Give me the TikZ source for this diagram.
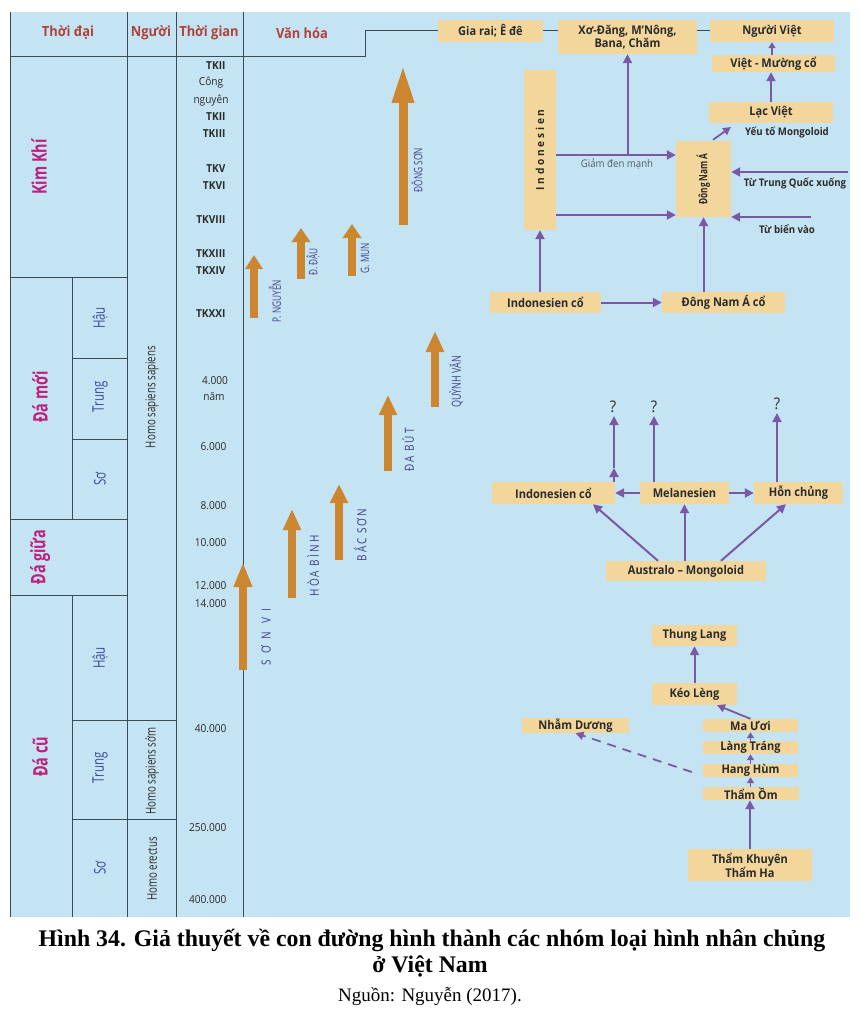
\documentclass[tikz,border=0pt]{standalone}
\usepackage{fontspec}
\setmainfont{Open Sans}
\newfontfamily\capfont{Liberation Serif}
\newfontfamily\boxfont[FakeStretch=0.92]{Open Sans}
\newfontfamily\condfont[FakeStretch=0.72]{Open Sans}
\newfontfamily\spacedfont[FakeStretch=0.8,LetterSpace=17]{Open Sans}
\newfontfamily\widespfont[FakeStretch=0.8,LetterSpace=50]{Open Sans}
\usetikzlibrary{arrows.meta,calc}
\definecolor{bgblue}{HTML}{C5E4F3}
\definecolor{tanbox}{HTML}{F2D69C}
\definecolor{orarrow}{HTML}{CC8630}
\definecolor{purp}{HTML}{7B58A3}
\definecolor{magl}{HTML}{BF1F7D}
\definecolor{subblue}{HTML}{3D4C9E}
\definecolor{hdred}{HTML}{B0413A}
\definecolor{cult}{HTML}{403F8C}
\definecolor{gridc}{HTML}{3B4B52}
\definecolor{txt}{HTML}{2B2B2B}
\definecolor{graytxt}{HTML}{4F5F66}
\tikzset{
  box/.style={fill=tanbox, draw=none, inner sep=0pt, align=center, text=txt,
    font=\boxfont\bfseries\fontsize{12}{13}\selectfont},
  gridline/.style={draw=gridc, line width=1pt},
  parr/.style={draw=purp, line width=2pt, -{Triangle[length=9pt,width=9pt]}},
  sparr/.style={draw=purp, line width=1.6pt, -{Triangle[length=6pt,width=7pt]}},
  orar/.style={draw=orarrow, line width=8.5pt},
  hdr/.style={text=hdred, font=\boxfont\bfseries\fontsize{14}{16}\selectfont},
  era/.style={rotate=90, text=magl, font=\condfont\bfseries\fontsize{20}{22}\selectfont},
  subera/.style={rotate=90, text=subblue, font=\condfont\fontsize{16}{17}\selectfont},
  human/.style={rotate=90, text=txt, font=\condfont\fontsize{13.5}{14}\selectfont},
  tl/.style={anchor=east, text=txt, font=\boxfont\fontsize{11}{12}\selectfont},
  tlb/.style={anchor=east, text=txt, font=\boxfont\bfseries\fontsize{11}{12}\selectfont},
  tlc/.style={text=txt, font=\boxfont\fontsize{11}{12}\selectfont},
  cultlbl/.style={rotate=90, text=cult, font=\condfont\fontsize{11.5}{12}\selectfont},
  cultsp/.style={rotate=90, text=cult, font=\spacedfont\fontsize{12.5}{13}\selectfont},
  smalllbl/.style={text=txt, font=\boxfont\bfseries\fontsize{10.5}{12}\selectfont},
  qm/.style={text=txt, inner sep=1pt, font=\boxfont\fontsize{16}{17}\selectfont},
}
\begin{document}
\begin{tikzpicture}[x=1pt,y=-1pt]
\useasboundingbox (0,0) rectangle (860,1024);
\fill[white] (0,0) rectangle (860,1024);
\fill[bgblue] (10,12) rectangle (850,917);

% grid
\draw[gridline] (10,12) -- (10,917);
\draw[gridline] (127,12) -- (127,917);
\draw[gridline] (176,12) -- (176,917);
\draw[gridline] (243,12) -- (243,917);
\draw[gridline] (72,277) -- (72,519);
\draw[gridline] (72,595) -- (72,917);
\draw[gridline] (10,277) -- (127,277);
\draw[gridline] (72,358) -- (127,358);
\draw[gridline] (72,439) -- (127,439);
\draw[gridline] (10,519) -- (127,519);
\draw[gridline] (10,595) -- (127,595);
\draw[gridline] (72,720) -- (176,720);
\draw[gridline] (72,819) -- (176,819);

% header
\node[hdr] (h1) at (68,33) {Thời đại};
\node[hdr] (h2) at (151,33) {Người};
\node[hdr] (h3) at (209,33) {Thời gian};
\node[hdr] (h4) at (302,33) {Văn hóa};

% eras
\node[era] (e1) at (39,167) {Kim Khí};
\node[era] (e2) at (40,397) {Đá mới};
\node[era] (e3) at (40,557) {Đá giữa};
\node[era] (e4) at (40,757) {Đá cũ};
\node[subera] (s1) at (100,318) {Hậu};
\node[subera] (s2) at (100,397) {Trung};
\node[subera] (s3) at (100,479) {Sơ};
\node[subera] (s4) at (100,658) {Hậu};
\node[subera] (s5) at (100,768) {Trung};
\node[subera] (s6) at (100,868) {Sơ};
\node[human] (p1) at (152,397) {Homo sapiens sapiens};
\node[human] (p2) at (152,771) {Homo sapiens sớm};
\node[human] (p3) at (152,869) {Homo erectus};

% time labels
\node[tlb] (t1) at (229,66) {TKII};
\node[tlc] (t2) at (211,83) {Công};
\node[tlc] (t3) at (211,101) {nguyên};
\node[tlb] (t4) at (229,117) {TKII};
\node[tlb] (t5) at (229,134) {TKIII};
\node[tlb] (t6) at (229,169) {TKV};
\node[tlb] (t7) at (229,186) {TKVI};
\node[tlb] (t8) at (229,220) {TKVIII};
\node[tlb] (t9) at (229,254) {TKXIII};
\node[tlb] (t10) at (229,271) {TKXIV};
\node[tlb] (t11) at (229,314) {TKXXI};
\node[tlc] (t12) at (215,381) {4.000};
\node[tlc] (t13) at (214,396) {năm};
\node[tl] (t14) at (230,447) {6.000};
\node[tl] (t15) at (230,506) {8.000};
\node[tl] (t16) at (230,543) {10.000};
\node[tl] (t17) at (230,586) {12.000};
\node[tl] (t18) at (230,604) {14.000};
\node[tl] (t19) at (230,729) {40.000};
\node[tl] (t20) at (230,828) {250.000};
\node[tl] (t21) at (230,900) {400.000};

% culture arrows
\coordinate (sv0) at (243,670); \coordinate (sv1) at (243,562);
\draw[orar,-{Triangle[length=25pt,width=17pt]}] (sv0) -- (sv1);
\coordinate (hb0) at (292,598); \coordinate (hb1) at (292,509);
\draw[orar,-{Triangle[length=21pt,width=17pt]}] (hb0) -- (hb1);
\coordinate (bs0) at (339,560); \coordinate (bs1) at (339,484);
\draw[orar,-{Triangle[length=19pt,width=17pt]}] (bs0) -- (bs1);
\coordinate (db0) at (388,471); \coordinate (db1) at (388,395);
\draw[orar,-{Triangle[length=20pt,width=17pt]}] (db0) -- (db1);
\coordinate (qv0) at (435,407); \coordinate (qv1) at (435,331);
\draw[orar,-{Triangle[length=21pt,width=17pt]}] (qv0) -- (qv1);
\coordinate (pn0) at (254,318); \coordinate (pn1) at (254,255);
\draw[orar,-{Triangle[length=14pt,width=17pt]}] (pn0) -- (pn1);
\coordinate (dd0) at (301,279); \coordinate (dd1) at (301,228);
\draw[orar,-{Triangle[length=14pt,width=18pt]}] (dd0) -- (dd1);
\coordinate (gm0) at (352,276); \coordinate (gm1) at (352,224);
\draw[orar,-{Triangle[length=14pt,width=18pt]}] (gm0) -- (gm1);
\coordinate (ds0) at (403,225); \coordinate (ds1) at (403,64);
\draw[orar,line width=9pt,-{Triangle[length=39pt,width=20pt]}] (ds0) -- (ds1);

\node[cultsp,font=\widespfont\fontsize{12.5}{13}\selectfont] (l1) at (266,637) {SƠN VI};
\node[cultsp] (l2) at (313,566) {HÒA BÌNH};
\node[cultsp] (l3) at (360,535) {BẮC SƠN};
\node[cultsp] (l4) at (408,450) {ĐA BÚT};
\node[cultlbl,font=\condfont\fontsize{12.5}{13}\selectfont] (l5) at (456,382) {QUỲNH VĂN};
\node[cultlbl] (l6) at (275,301) {P. NGUYỄN};
\node[cultlbl] (l7) at (313,262) {Đ. ĐẬU};
\node[cultlbl] (l8) at (365,258) {G. MUN};
\node[cultlbl] (l9) at (417,170) {ĐÔNG SƠN};

% top diagram
\node[box,minimum width=105pt,minimum height=22pt] (giarai) at (490.5,31) {Gia rai; Ê đê};
\node[box,minimum width=139pt,minimum height=34pt] (xodang) at (627.5,37) {Xơ-Đăng, M’Nông,\\Bana, Chăm};
\node[box,minimum width=124pt,minimum height=22pt] (nguoiviet) at (772,31) {Người Việt};
\node[box,minimum width=123pt,minimum height=17pt] (vietmuong) at (773.5,63.5) {Việt - Mường cổ};
\node[box,minimum width=124pt,minimum height=21pt] (lacviet) at (771,112.5) {Lạc Việt};
\node[box,minimum width=55pt,minimum height=76pt] (dna) at (703.5,179) {};
\node[rotate=90,text=txt,font=\condfont\bfseries\fontsize{11.5}{12}\selectfont] (dnat) at (dna.center) {Đông Nam Á};
\node[box,minimum width=32pt,minimum height=160pt] (indo) at (540,150) {};
\node[rotate=90,text=txt,font=\boxfont\bfseries\fontsize{11}{12}\selectfont\addfontfeature{LetterSpace=25}] (indot) at (indo.center) {Indonesien};
\node[box,minimum width=111pt,minimum height=21pt] (indoco1) at (545.5,302.5) {Indonesien cổ};
\node[box,minimum width=123pt,minimum height=21pt] (dnaco) at (723.5,302.5) {Đông Nam Á cổ};

\draw[gridline] (giarai.west) -- (365,31) -- (365,57) -- (10,57);
\draw[gridline] (giarai.east) -- (giarai.east -| xodang.west);
\draw[gridline] (nguoiviet.west -| xodang.east) -- (nguoiviet.west);

\draw[sparr] (vietmuong.north -| nguoiviet.south) -- (nguoiviet.south);
\draw[parr] (lacviet.north) -- (vietmuong.south -| lacviet.north);
\coordinate (mongtip) at (731,127);
\draw[parr,line width=1.8pt,-{Triangle[length=8pt,width=8pt]}] ([xshift=9.5pt,yshift=1pt]dna.north) -- (mongtip);
\node[smalllbl] (mongl) at (787,133) {Yếu tố Mongoloid};

\draw[parr] (indo.east |- 0,155) -- (dna.west |- 0,155);
\draw[parr] (xodang.south |- 0,155) -- (xodang.south);
\node[text=graytxt,font=\boxfont\fontsize{10.5}{12}\selectfont] (giam) at (617,164) {Giảm đen mạnh};
\draw[parr] (indo.east |- 0,215) -- (dna.west |- 0,215);

\coordinate (tq) at (848,172);
\draw[parr] (tq) -- (dna.east |- tq);
\node[smalllbl] (tql) at (795,183) {Từ Trung Quốc xuống};
\coordinate (bien) at (811,217);
\draw[parr] (bien) -- (dna.east |- bien);
\node[smalllbl] (bienl) at (787,229) {Từ biển vào};

\draw[parr] (indo.south |- indoco1.north) -- (indo.south);
\draw[parr] (indoco1.east) -- (dnaco.west);
\draw[parr] (dna.south |- dnaco.north) -- (dna.south);

% middle diagram
\node[box,minimum width=123pt,minimum height=22pt] (indoco2) at (553.5,493) {Indonesien cổ};
\node[box,minimum width=89pt,minimum height=22pt] (mela) at (684.5,493) {Melanesien};
\node[box,minimum width=89pt,minimum height=22pt] (hon) at (798.5,493) {Hỗn chủng};
\node[box,minimum width=160pt,minimum height=20pt] (austr) at (686,571) {Australo – Mongoloid};
\node[qm] (q1) at (613,407) {?};
\node[qm] (q2) at (654,407) {?};
\node[qm] (q3) at (777,404) {?};

\draw[parr] (mela.west) -- (indoco2.east);
\draw[parr] (mela.east) -- (hon.west);
\coordinate (m1) at (614,468);
\draw[parr] (m1 |- indoco2.north) -- (m1);
\draw[parr,shorten >=2pt] (m1) -- (m1 |- q1.south);
\draw[parr,shorten >=2pt] (q2.south |- mela.north) -- (q2.south);
\draw[parr,shorten >=2pt] (q3.south |- hon.north) -- (q3.south);
\draw[parr] ([xshift=-28pt]austr.north) -- ([xshift=39.5pt]indoco2.south);
\draw[parr] (mela.south |- austr.north) -- (mela.south);
\draw[parr] ([xshift=35pt]austr.north) -- ([xshift=-12.5pt]hon.south);

% lower diagram
\node[box,minimum width=85pt,minimum height=21pt] (thung) at (694.5,635.5) {Thung Lang};
\node[box,minimum width=85pt,minimum height=22pt] (keo) at (694.5,694) {Kéo Lèng};
\node[box,minimum width=107pt,minimum height=15pt] (nham) at (575.5,725.5) {Nhẫm Dương};
\node[box,minimum width=95pt,minimum height=13pt] (maugoi) at (750.5,725.5) {Ma Ươi};
\node[box,minimum width=95pt,minimum height=13pt] (lang) at (750.5,747.5) {Làng Tráng};
\node[box,minimum width=95pt,minimum height=13pt] (hang) at (750.5,770.5) {Hang Hùm};
\node[box,minimum width=96pt,minimum height=13pt] (thamom) at (751,793.5) {Thẩm Ồm};
\node[box,minimum width=124pt,minimum height=32pt] (thamkh) at (750,865) {Thẩm Khuyên\\Thẩm Ha};

\draw[parr] (keo.north) -- (thung.south);
\draw[parr,line width=1.8pt,-{Triangle[length=8pt,width=8pt]}] (maugoi.north) -- ([xshift=22.5pt]keo.south);
\draw[sparr] (lang.north) -- (maugoi.south);
\draw[sparr] (hang.north) -- (lang.south);
\draw[sparr] (thamom.north -| hang.south) -- (hang.south);
\draw[parr] (thamkh.north) -- (thamkh.north |- thamom.south);
\draw[draw=purp, line width=1.8pt, dash pattern=on 9pt off 7pt, -{Triangle[length=8pt,width=8pt]}] ($(hang.west)+(-11,1.5)$) -- (nham.south);

% caption
\node[font=\capfont\bfseries\fontsize{23.8}{26}\selectfont, text=black] (cap1) at (432,940) {Hình 34. Giả thuyết về con đường hình thành các nhóm loại hình nhân chủng};
\node[font=\capfont\bfseries\fontsize{23.8}{26}\selectfont, text=black] (cap2) at (430,966) {ở Việt Nam};
\node[font=\capfont\fontsize{19}{22}\selectfont, text=black] (cap3) at (430,996) {Nguồn: Nguyễn (2017).};
\end{tikzpicture}
\end{document}
